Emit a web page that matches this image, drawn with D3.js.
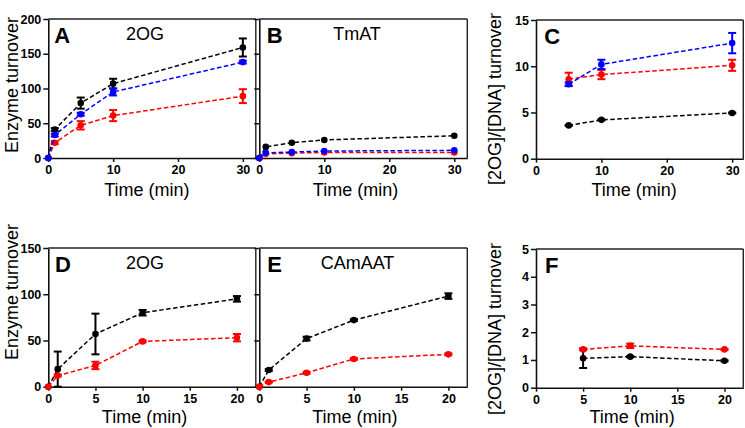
<!DOCTYPE html>
<html><head><meta charset="utf-8">
<script src="https://cdn.jsdelivr.net/npm/d3@7"></script>
<style>
body{margin:0;background:#fff;}
text{font-family:"Liberation Sans",Arial,sans-serif;}
</style></head>
<body>
<script>
// ---------- data ----------
const timeTop = [0, 1, 5, 10, 30];
const timeTopRatio = [5, 10, 30];
const timeBottom = [0, 1, 5, 10, 20];
const timeBottomRatio = [5, 10, 20];

const xTicksTop = [0, 10, 20, 30];
const xTicksBottom = [0, 5, 10, 15, 20];
const yTicksA = [0, 50, 100, 150, 200];
const yTicksC = [0, 5, 10, 15];
const yTicksD = [0, 50, 100, 150];
const yTicksF = [0, 1, 2, 3, 4, 5];

const A_black = [0, 41, 79, 107, 159];
const A_blackErr = [0, 2, 8, 7, 13];
const A_blue = [0, 33, 63, 95, 138];
const A_blueErr = [0, 2, 2, 5, 2];
const A_red = [0, 22, 47, 61, 89];
const A_redErr = [0, 2, 6, 8, 10];

const B_black = [0, 16, 22, 26, 32];
const B_blue = [0, 7.5, 8.5, 10, 11];
const B_red = [0, 6, 7, 8, 8];

const C_black = [3.6, 4.2, 4.95];
const C_blackErr = [0.05, 0.05, 0.05];
const C_blue = [8.05, 10.2, 12.5];
const C_blueErr = [0.2, 0.5, 1.1];
const C_red = [8.6, 9.1, 10.1];
const C_redErr = [0.7, 0.5, 0.6];

const D_black = [0, 19, 57, 80, 95];
const D_blackErr = [0, 19, 22, 3, 3];
const D_red = [0, 12, 23, 49, 53];
const D_redErr = [0, 1, 4, 1, 4];

const E_black = [0, 18, 52, 72, 98];
const E_blackErr = [0, 1, 2, 1, 3];
const E_red = [0, 5, 15, 30, 35];
const E_redErr = [0, 0.5, 1, 1, 1];

const F_black = [1.06, 1.12, 0.97];
const F_blackErr = [0.35, 0.02, 0.02];
const F_red = [1.38, 1.51, 1.38];
const F_redErr = [0.03, 0.08, 0.02];

const BLACK = "#000000", BLUE = "#0000ff", RED = "#ff0000";
const FONT = '"Liberation Sans",Arial,sans-serif';

// ---------- drawing ----------
const svg = d3.select("body").append("svg").attr("width", 745).attr("height", 428);

function pts(t, v, e) { return t.map((d, i) => ({t: d, v: v[i], e: e ? e[i] : 0})); }

function drawPanel(p) {
  const x = d3.scaleLinear().domain(p.xDomain).range([p.left, p.right]);
  const y = d3.scaleLinear().domain(p.yDomain).range([p.bottom, p.top]);
  const g = svg.append("g");

  // frame top and right
  g.append("line").attr("x1", p.left).attr("x2", p.right).attr("y1", p.top).attr("y2", p.top)
    .attr("stroke", "#222").attr("stroke-width", 1.4);
  g.append("line").attr("x1", p.right).attr("x2", p.right).attr("y1", p.top).attr("y2", p.bottom)
    .attr("stroke", "#222").attr("stroke-width", 1.4);

  const xa = g.append("g").attr("transform", `translate(0,${p.bottom})`)
    .call(d3.axisBottom(x).tickValues(p.xTicks).tickSize(4).tickSizeOuter(0).tickPadding(3).tickFormat(d3.format("d")));
  const ya = g.append("g").attr("transform", `translate(${p.left},0)`)
    .call(d3.axisLeft(y).tickValues(p.yTicks).tickSize(5).tickSizeOuter(0).tickPadding(2)
      .tickFormat(p.yLabels ? d3.format("d") : () => ""));
  [xa, ya].forEach(a => {
    a.select(".domain").attr("stroke", "#111").attr("stroke-width", 1.6);
    a.selectAll(".tick line").attr("stroke", "#111").attr("stroke-width", 1.5);
    a.selectAll(".tick text").attr("font-family", FONT).attr("font-size", "12.5px")
      .attr("font-weight", "bold").attr("fill", "#000");
  });

  // series
  p.series.forEach(s => {
    const data = s.data;
    g.append("path").datum(data)
      .attr("d", d3.line().x(d => x(d.t)).y(d => y(d.v)))
      .attr("fill", "none").attr("stroke", s.color).attr("stroke-width", 1.5)
      .attr("stroke-dasharray", "4.5,2.5");
    const eb = data.filter(d => d.e > 0);
    const cap = 4;
    g.selectAll(null).data(eb).enter().append("line")
      .attr("x1", d => x(d.t)).attr("x2", d => x(d.t))
      .attr("y1", d => y(d.v - d.e)).attr("y2", d => y(d.v + d.e))
      .attr("stroke", s.color).attr("stroke-width", 2);
    g.selectAll(null).data(eb).enter().append("line")
      .attr("x1", d => x(d.t) - cap).attr("x2", d => x(d.t) + cap)
      .attr("y1", d => y(d.v + d.e)).attr("y2", d => y(d.v + d.e))
      .attr("stroke", s.color).attr("stroke-width", 2);
    g.selectAll(null).data(eb).enter().append("line")
      .attr("x1", d => x(d.t) - cap).attr("x2", d => x(d.t) + cap)
      .attr("y1", d => y(d.v - d.e)).attr("y2", d => y(d.v - d.e))
      .attr("stroke", s.color).attr("stroke-width", 2);
    g.selectAll(null).data(data).enter().append("circle")
      .attr("cx", d => x(d.t)).attr("cy", d => y(d.v)).attr("r", 3.3)
      .attr("fill", s.color);
  });

  // panel letter
  g.append("text").attr("x", p.left + p.letterDx).attr("y", p.letterY)
    .attr("font-family", FONT).attr("font-size", "22px").attr("font-weight", "bold")
    .text(p.letter);
  if (p.title) {
    g.append("text").attr("x", p.titleX).attr("y", p.titleY).attr("text-anchor", "middle")
      .attr("font-family", FONT).attr("font-size", "18px").text(p.title);
  }
  // x label
  g.append("text").attr("x", x(p.xMid)).attr("y", p.xLabelY).attr("text-anchor", "middle")
    .attr("font-family", FONT).attr("font-size", "18px").text("Time (min)");
  // y label
  if (p.yTitle) {
    g.append("text").attr("transform", `translate(${p.yTitleX},${p.yTitleY}) rotate(-90)`)
      .attr("text-anchor", p.yTitleAnchor).attr("font-family", FONT).attr("font-size", "18px")
      .text(p.yTitle);
  }
}

const panels = [
  {letter: "A", title: "2OG", titleX: 145, titleY: 40, letterDx: 6, letterY: 43,
   left: 48.3, right: 255.8, top: 19, bottom: 158, xDomain: [0, 32], yDomain: [0, 200],
   xTicks: xTicksTop, yTicks: yTicksA, yLabels: true, xMid: 15.2, xLabelY: 196,
   yTitle: "Enzyme turnover", yTitleX: 18, yTitleY: 85, yTitleAnchor: "middle",
   series: [
     {color: BLACK, data: pts(timeTop, A_black, A_blackErr)},
     {color: RED, data: pts(timeTop, A_red, A_redErr)},
     {color: BLUE, data: pts(timeTop, A_blue, A_blueErr)}]},
  {letter: "B", title: "TmAT", titleX: 357, titleY: 40, letterDx: 7.5, letterY: 43,
   left: 259.3, right: 467.3, top: 19, bottom: 158, xDomain: [0, 32], yDomain: [0, 200],
   xTicks: xTicksTop, yTicks: yTicksA, yLabels: false, xMid: 14.8, xLabelY: 196,
   series: [
     {color: BLACK, data: pts(timeTop, B_black)},
     {color: RED, data: pts(timeTop, B_red)},
     {color: BLUE, data: pts(timeTop, B_blue)}]},
  {letter: "C", title: null, letterDx: 8.3, letterY: 44,
   left: 536, right: 743.3, top: 20, bottom: 158.7, xDomain: [0, 31.7], yDomain: [0, 15],
   xTicks: xTicksTop, yTicks: yTicksC, yLabels: true, xMid: 15, xLabelY: 196,
   yTitle: "[2OG]/[DNA] turnover", yTitleX: 501, yTitleY: 185, yTitleAnchor: "start",
   series: [
     {color: BLACK, data: pts(timeTopRatio, C_black, C_blackErr)},
     {color: RED, data: pts(timeTopRatio, C_red, C_redErr)},
     {color: BLUE, data: pts(timeTopRatio, C_blue, C_blueErr)}]},
  {letter: "D", title: "2OG", titleX: 145, titleY: 269, letterDx: 6.7, letterY: 271.7,
   left: 48.3, right: 255.8, top: 248, bottom: 386.7, xDomain: [0, 22], yDomain: [0, 150],
   xTicks: xTicksBottom, yTicks: yTicksD, yLabels: true, xMid: 10.2, xLabelY: 423,
   yTitle: "Enzyme turnover", yTitleX: 18, yTitleY: 292, yTitleAnchor: "middle",
   series: [
     {color: BLACK, data: pts(timeBottom, D_black, D_blackErr)},
     {color: RED, data: pts(timeBottom, D_red, D_redErr)}]},
  {letter: "E", title: "CAmAAT", titleX: 357.5, titleY: 269, letterDx: 8, letterY: 272,
   left: 259.3, right: 467.3, top: 248, bottom: 386.7, xDomain: [0, 22], yDomain: [0, 150],
   xTicks: xTicksBottom, yTicks: yTicksD, yLabels: false, xMid: 10.1, xLabelY: 423,
   series: [
     {color: BLACK, data: pts(timeBottom, E_black, E_blackErr)},
     {color: RED, data: pts(timeBottom, E_red, E_redErr)}]},
  {letter: "F", title: null, letterDx: 9, letterY: 273,
   left: 536, right: 743.3, top: 249, bottom: 387.7, xDomain: [0, 22], yDomain: [0, 5],
   xTicks: xTicksBottom, yTicks: yTicksF, yLabels: true, xMid: 10.2, xLabelY: 423,
   yTitle: "[2OG]/[DNA] turnover", yTitleX: 501, yTitleY: 415, yTitleAnchor: "start",
   series: [
     {color: BLACK, data: pts(timeBottomRatio, F_black, F_blackErr)},
     {color: RED, data: pts(timeBottomRatio, F_red, F_redErr)}]}
];

panels.forEach(drawPanel);
</script>
</body></html>
